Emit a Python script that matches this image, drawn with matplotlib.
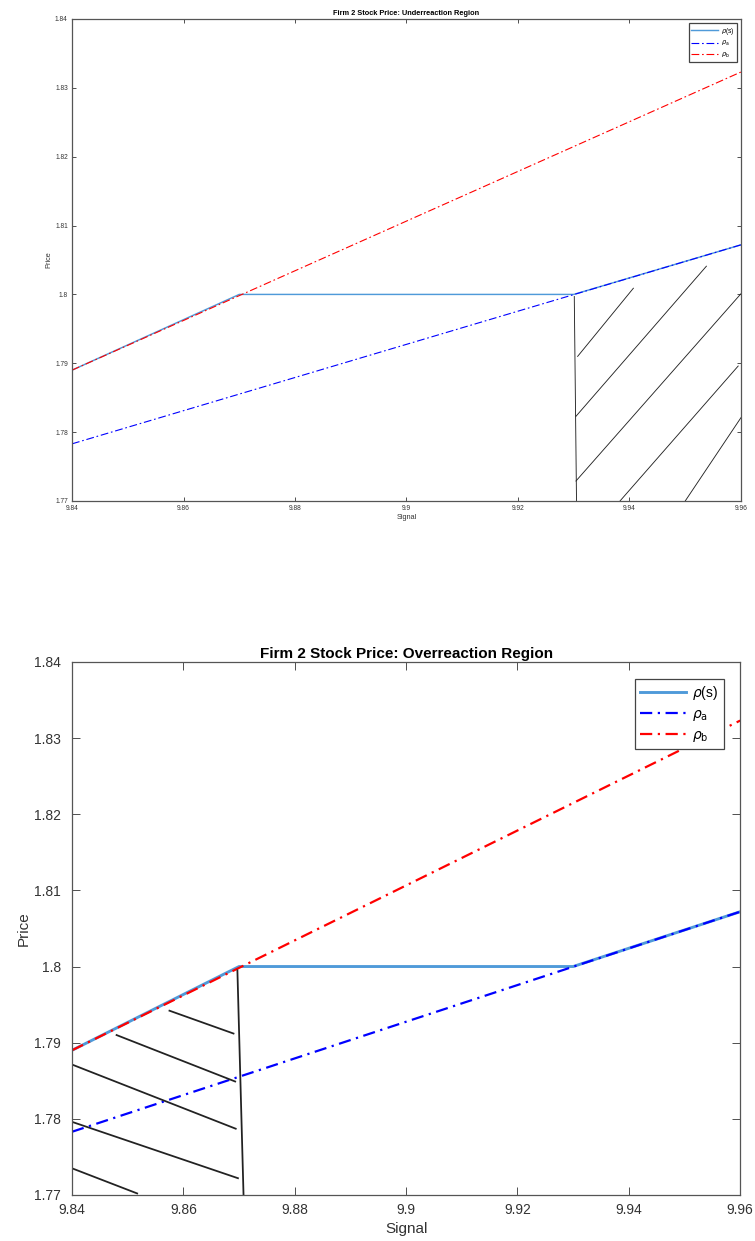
import matplotlib
matplotlib.use("Agg")
import matplotlib.pyplot as plt
import matplotlib.ticker as ticker

plt.rcParams['font.family'] = ['Liberation Sans', 'DejaVu Sans']
plt.rcParams['mathtext.fontset'] = 'dejavusans'

# price curves (signal on x)
signal_ends = [9.84, 9.96]
rho_a = [1.7783, 1.8072]
rho_b = [1.7890, 1.8323]
signal_s = [9.84, 9.87, 9.93, 9.96]
rho_s = [1.7890, 1.8000, 1.8000, 1.8072]

# hand drawn hatching, segments as (x1, y1, x2, y2)
hatch_under = [
    (9.9301, 1.7997, 9.9305, 1.7700),
    (9.9307, 1.7910, 9.9407, 1.8009),
    (9.9304, 1.7823, 9.9538, 1.8041),
    (9.9304, 1.7729, 9.9600, 1.8001),
    (9.9383, 1.7700, 9.9595, 1.7896),
    (9.9500, 1.7700, 9.9600, 1.7821),
]
hatch_over = [
    (9.8697, 1.7995, 9.8708, 1.7700),
    (9.8575, 1.7942, 9.8690, 1.7912),
    (9.8480, 1.7910, 9.8693, 1.7849),
    (9.8394, 1.7873, 9.8694, 1.7787),
    (9.8400, 1.7796, 9.8698, 1.7722),
    (9.8400, 1.7735, 9.8517, 1.7702),
]

xticks = [9.84, 9.86, 9.88, 9.90, 9.92, 9.94, 9.96]
yticks = [1.77, 1.78, 1.79, 1.80, 1.81, 1.82, 1.83, 1.84]

S_COLOR = '#4f9ad9'


def PricePanel(ax, title, hatch, fs, lw, ticklen, dash, xpad, ypad, legpad, hlen, xlpad):
    ax.plot(signal_s, rho_s, color=S_COLOR, lw=lw * 1.3, label=r'$\rho$(s)')
    la, = ax.plot(signal_ends, rho_a, color='#0000ff', lw=lw, label=r'$\rho_{\rm a}$')
    lb, = ax.plot(signal_ends, rho_b, color='#ff0000', lw=lw, label=r'$\rho_{\rm b}$')
    la.set_dashes(dash)
    lb.set_dashes(dash)
    for x1, y1, x2, y2 in hatch:
        ax.plot([x1, x2], [y1, y2], color='#222222', lw=lw * 0.8)
    ax.set_xlim(9.84, 9.96)
    ax.set_ylim(1.77, 1.84)
    ax.set_xticks(xticks)
    ax.set_yticks(yticks)
    fmt = ticker.FuncFormatter(lambda v, p: '%g' % round(v, 4))
    ax.xaxis.set_major_formatter(fmt)
    ax.yaxis.set_major_formatter(fmt)
    ax.tick_params(direction='in', length=ticklen, width=0.6, top=True, right=True,
                   labelsize=fs, colors='#333333')
    ax.tick_params(axis='x', pad=xpad)
    ax.tick_params(axis='y', pad=ypad)
    for sp in ax.spines.values():
        sp.set_color('#555555')
        sp.set_linewidth(0.9)
    ax.set_title(title, fontsize=fs * 1.1, fontweight='bold', pad=3)
    ax.set_xlabel('Signal', fontsize=fs * 1.1, color='#333333', labelpad=xlpad)
    ax.set_ylabel('Price', fontsize=fs * 1.1, color='#333333', labelpad=2)
    leg = ax.legend(loc='upper right', fontsize=fs, handlelength=hlen, borderaxespad=legpad,
                    fancybox=False, framealpha=1, edgecolor='#444444',
                    labelspacing=0.35, handletextpad=0.4)
    leg.get_frame().set_linewidth(0.9)
    return ax


fig = plt.figure(figsize=(7.55, 12.41), dpi=100)

ax1 = fig.add_axes([0.0954, 0.5963, 0.886, 0.3884])
PricePanel(ax1, 'Firm 2 Stock Price: Underreaction Region', hatch_under,
           fs=4.8, lw=0.8, ticklen=3, dash=(7, 2.5, 1.5, 2.5),
           xpad=3, ypad=3, legpad=0.6, hlen=4, xlpad=1)

ax2 = fig.add_axes([0.0954, 0.0371, 0.885, 0.4295])
PricePanel(ax2, 'Firm 2 Stock Price: Overreaction Region', hatch_over,
           fs=10, lw=1.6, ticklen=6, dash=(5.5, 2.5, 1, 2.5),
           xpad=5.5, ypad=8, legpad=1.2, hlen=3.3, xlpad=4)

fig.savefig('out.png', dpi=100)
